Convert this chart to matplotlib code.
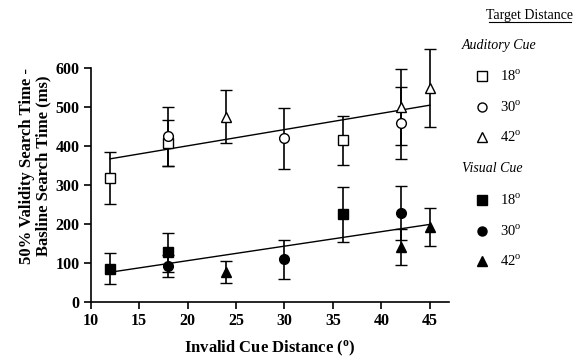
import numpy as np
import matplotlib.pyplot as plt
from matplotlib.lines import Line2D

plt.rcParams['font.family'] = 'Liberation Serif'
plt.rcParams['mathtext.fontset'] = 'custom'
plt.rcParams['mathtext.rm'] = 'Liberation Serif'
plt.rcParams['mathtext.bf'] = 'Liberation Serif:bold'

# auditory cue, by target distance
aud18_x = [12, 18, 36]
aud18_y = [318, 408, 415]
aud18_e = [67, 60, 63]
aud30_x = [18, 30, 42]
aud30_y = [425, 420, 459]
aud30_e = [75, 79, 92]
aud42_x = [24, 42, 45]
aud42_y = [475, 500, 549]
aud42_e = [68, 97, 100]

# visual cue, by target distance
vis18_x = [12, 18, 36]
vis18_y = [85, 128, 225]
vis18_e = [40, 50, 70]
vis30_x = [18, 30, 42]
vis30_y = [92, 110, 228]
vis30_e = [28, 50, 70]
vis42_x = [24, 42, 45]
vis42_y = [78, 141, 192]
vis42_e = [28, 47, 48]

fig = plt.figure(figsize=(5.78, 3.6), dpi=100)
ax = fig.add_axes([0.157, 0.161, 0.62, 0.758])

def series(x, y, e, marker, fill):
    ax.errorbar(x, y, yerr=e, fmt=marker, color='black', mfc=fill, mec='black',
                ms=7, mew=1, ecolor='black', elinewidth=1.2, capsize=4, capthick=1.2, zorder=3)

series(aud18_x, aud18_y, aud18_e, 's', 'white')
series(aud30_x, aud30_y, aud30_e, 'o', 'white')
series(aud42_x, aud42_y, aud42_e, '^', 'white')
series(vis18_x, vis18_y, vis18_e, 's', 'black')
series(vis30_x, vis30_y, vis30_e, 'o', 'black')
series(vis42_x, vis42_y, vis42_e, '^', 'black')

# regression lines
for xs, ys in [(aud18_x + aud30_x + aud42_x, aud18_y + aud30_y + aud42_y),
               (vis18_x + vis30_x + vis42_x, vis18_y + vis30_y + vis42_y)]:
    k, b = np.polyfit(xs, ys, 1)
    xx = np.array([min(xs), max(xs)])
    ax.plot(xx, k * xx + b, color='black', lw=1, zorder=2)

ax.set_xlim(10, 47)
ax.set_ylim(0, 700)
ax.set_xticks(range(10, 50, 5))
ax.set_yticks(range(0, 700, 100))
ax.spines['top'].set_visible(False)
ax.spines['right'].set_visible(False)
ax.spines['left'].set_bounds(0, 600)
for s in ['left', 'bottom']:
    ax.spines[s].set_linewidth(1.2)
ax.tick_params(direction='out', width=1.2, length=5, labelsize=11.5, pad=3)
for t in ax.get_xticklabels() + ax.get_yticklabels():
    t.set_fontweight('bold')

ax.set_xlabel(r'Invalid Cue Distance ($\mathbf{^o}$)', fontsize=12, fontweight='bold', labelpad=7)
ax.set_ylabel('50% Validity Search Time -\nBasline Search Time (ms)', fontsize=12,
              fontweight='bold', labelpad=3, linespacing=1.05)

# legend drawn by hand
def px(x, y):
    return x / 578, 1 - y / 360

fig.text(*px(530, 15), 'Target Distance', fontsize=10, ha='center', va='center')
fig.add_artist(Line2D([489 / 578, 571 / 578], [1 - 22 / 360, 1 - 22 / 360], color='black', lw=0.8))
fig.text(*px(462, 46), 'Auditory Cue', fontsize=10, style='italic', va='center')
fig.text(*px(462, 169), 'Visual Cue', fontsize=10, style='italic', va='center')
rows = [(76, 's', 'white', '18'), (107, 'o', 'white', '30'), (137, '^', 'white', '42'),
        (200, 's', 'black', '18'), (231, 'o', 'black', '30'), (261, '^', 'black', '42')]
for y, m, fc, lab in rows:
    x0, y0 = px(482, y)
    fig.add_artist(Line2D([x0], [y0], marker=m, ms=6.5, mfc=fc, mec='black', mew=1, ls='none'))
    fig.text(*px(500, y), lab + r'$^{\rm o}$', fontsize=10.5, va='center')

fig.savefig('out.png', dpi=100)
